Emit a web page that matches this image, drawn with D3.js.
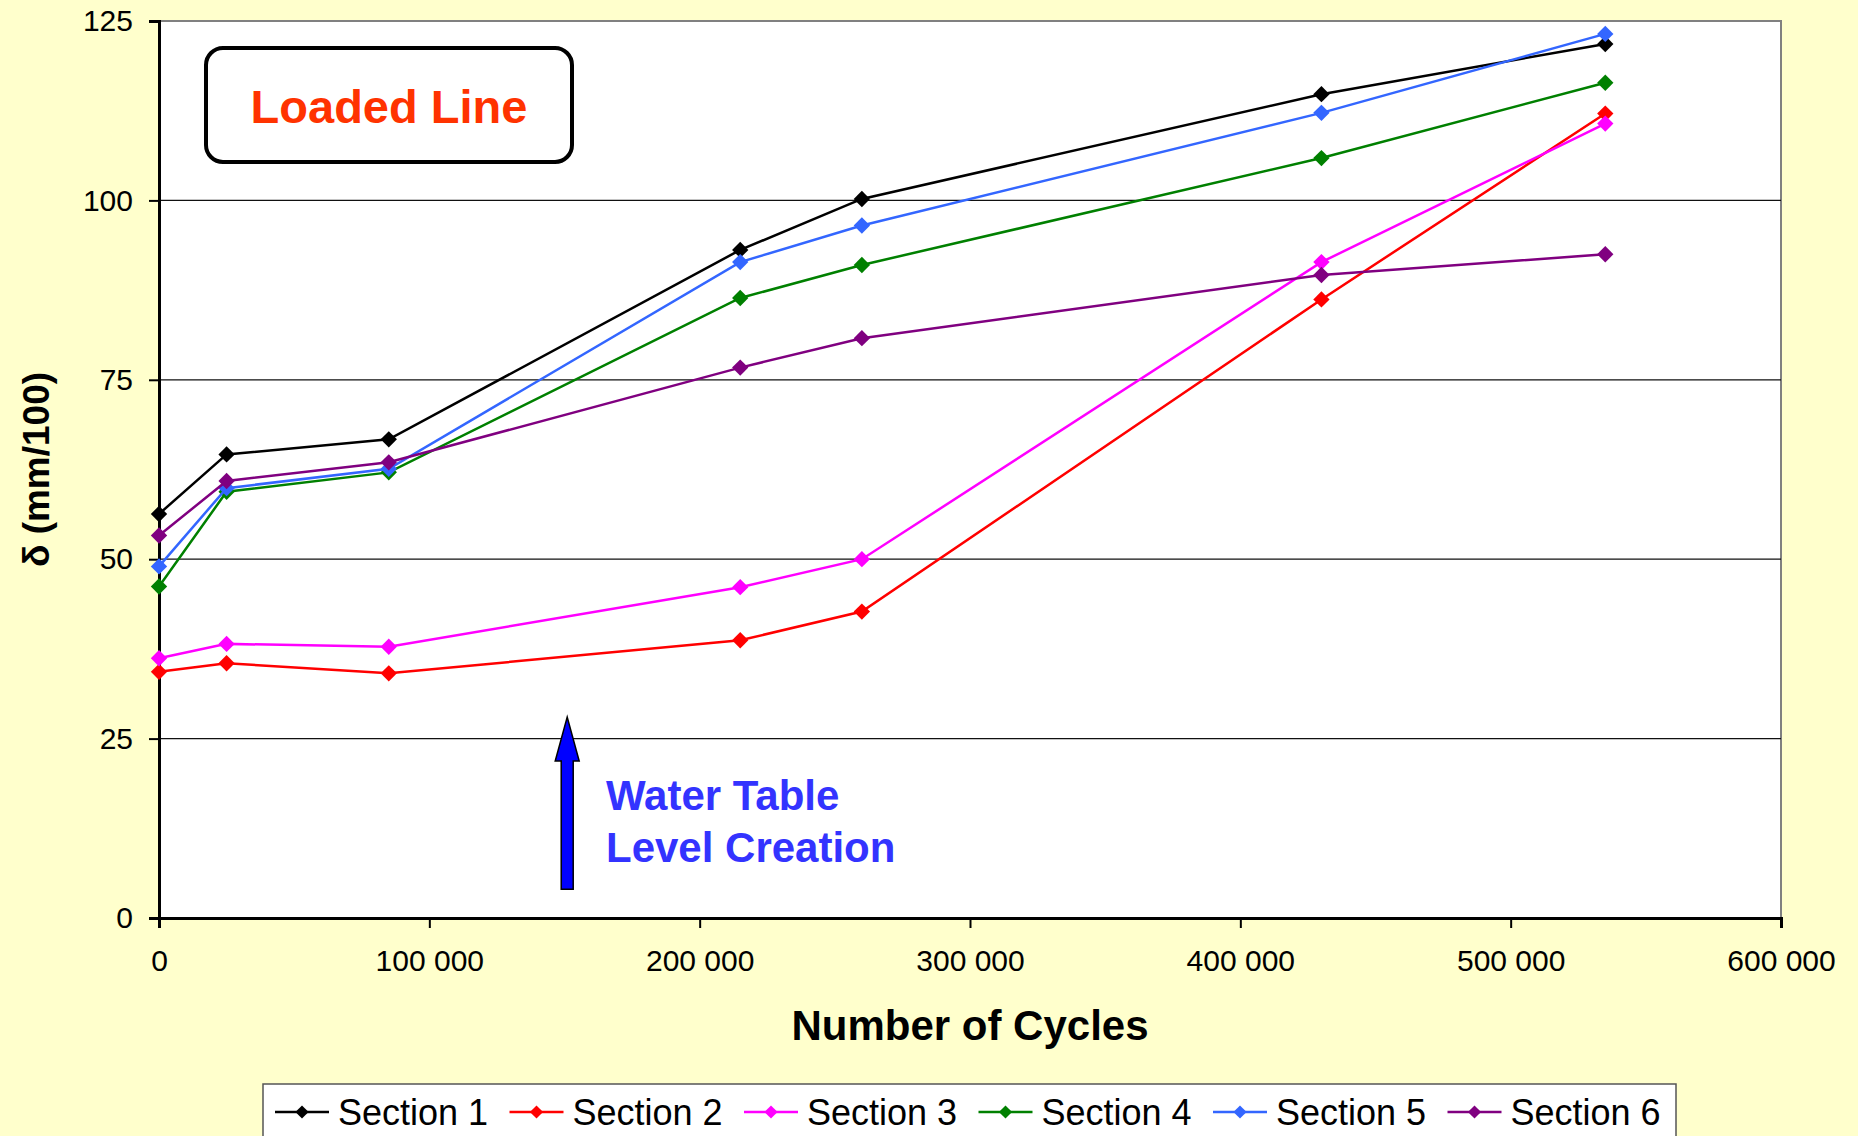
<!DOCTYPE html>
<html>
<head>
<meta charset="utf-8">
<script src="https://cdn.jsdelivr.net/npm/d3@7"></script>
<style>
    html, body { margin: 0; padding: 0; background: #ffffcc; }
    svg { display: block; font-family: "Liberation Sans", Arial, sans-serif; }
</style>
</head>
<body>
<svg width="1858" height="1136"></svg>
<script>

//data
const cycles = [0, 25000, 85000, 215000, 260000, 430000, 535000];
const seriesNames = ["Section 1", "Section 2", "Section 3", "Section 4", "Section 5", "Section 6"];
const seriesColors = ["#000000", "#ff0000", "#ff00ff", "#008000", "#3366ff", "#800080"];
const section1 = [56.3, 64.6, 66.7, 93.1, 100.2, 114.8, 121.8];
const section2 = [34.3, 35.5, 34.1, 38.7, 42.7, 86.2, 112.1];
const section3 = [36.2, 38.2, 37.8, 46.1, 50.0, 91.4, 110.7];
const section4 = [46.2, 59.4, 62.1, 86.4, 91.0, 105.9, 116.4];
const section5 = [49.0, 59.9, 62.6, 91.4, 96.5, 112.2, 123.2];
const section6 = [53.3, 60.9, 63.5, 76.7, 80.8, 89.6, 92.5];
const xTicks = [0, 100000, 200000, 300000, 400000, 500000, 600000];
const yTicks = [0, 25, 50, 75, 100, 125];

//annotation: water table arrow
const arrowCycle = 151000;
const arrowFrom = 4;
const arrowTo = 28;

let allSeries = [section1, section2, section3, section4, section5, section6];

var svg = d3.select("svg");

var margin = { left: 159, right: 77, top: 21, bottom: 218 },
    width = 1858 - margin.left - margin.right,
    height = 1136 - margin.top - margin.bottom;

var x = d3.scaleLinear().domain([0, 600000]).range([margin.left, margin.left + width]);
var y = d3.scaleLinear().domain([0, 125]).range([margin.top + height, margin.top]);

//numbers like "100 000"
var fmt = d3.formatLocale({ decimal: ".", thousands: " ", grouping: [3], currency: ["", ""] }).format(",");

//plot area
svg.append("rect")
    .attr("x", margin.left)
    .attr("y", margin.top)
    .attr("width", width)
    .attr("height", height)
    .attr("fill", "#ffffff")
    .attr("stroke", "#808080")
    .attr("stroke-width", 2);

//grid lines
svg.append("g")
    .selectAll("line")
    .data(yTicks.filter(d => d > 0 && d < 125))
    .enter().append("line")
    .attr("x1", margin.left)
    .attr("x2", margin.left + width)
    .attr("y1", d => y(d))
    .attr("y2", d => y(d))
    .attr("stroke", "#111")
    .attr("stroke-width", 1.2);

//axes
var xAxis = svg.append("g")
    .attr("transform", `translate(0,${margin.top + height})`)
    .call(d3.axisBottom(x).tickValues(xTicks).tickFormat(fmt).tickSizeOuter(0).tickSize(10).tickPadding(22));

var yAxis = svg.append("g")
    .attr("transform", `translate(${margin.left},0)`)
    .call(d3.axisLeft(y).tickValues(yTicks).tickSizeOuter(0).tickSize(10).tickPadding(16));

[xAxis, yAxis].forEach(ax => {
    ax.select(".domain").attr("stroke", "#000").attr("stroke-width", 3);
    ax.selectAll(".tick line").attr("stroke", "#000").attr("stroke-width", 2);
    ax.selectAll(".tick text")
        .attr("font-size", 30)
        .attr("font-family", "'Liberation Sans', Arial, sans-serif")
        .attr("fill", "#000");
});

//axis titles
svg.append("text")
    .attr("x", margin.left + width / 2)
    .attr("y", 1040)
    .attr("text-anchor", "middle")
    .attr("font-size", 42)
    .attr("font-weight", "bold")
    .text("Number of Cycles");

svg.append("text")
    .attr("transform", `translate(36,${margin.top + height / 2}) rotate(-90)`)
    .attr("text-anchor", "middle")
    .attr("dominant-baseline", "central")
    .attr("font-size", 37)
    .attr("font-weight", "bold")
    .text("δ (mm/100)");

//lines and diamond markers
var line = d3.line()
    .x((d, i) => x(cycles[i]))
    .y(d => y(d));

var diamond = d3.symbol().type(d3.symbolDiamond2).size(170);

allSeries.forEach((values, s) => {
    let g = svg.append("g").attr("class", "series");

    g.append("path")
        .datum(values)
        .attr("d", line)
        .attr("fill", "none")
        .attr("stroke", seriesColors[s])
        .attr("stroke-width", 2.5);

    g.selectAll("path.mark")
        .data(values)
        .enter().append("path")
        .attr("class", "mark")
        .attr("d", diamond)
        .attr("transform", (d, i) => `translate(${x(cycles[i])},${y(d)})`)
        .attr("fill", seriesColors[s]);
});

//"Loaded Line" box
svg.append("rect")
    .attr("x", 206)
    .attr("y", 48)
    .attr("width", 366)
    .attr("height", 114)
    .attr("rx", 17)
    .attr("fill", "#fff")
    .attr("stroke", "#000")
    .attr("stroke-width", 4);

svg.append("text")
    .attr("x", 389)
    .attr("y", 123)
    .attr("text-anchor", "middle")
    .attr("font-size", 47)
    .attr("font-weight", "bold")
    .attr("fill", "#ff3300")
    .text("Loaded Line");

//water table arrow
let ax0 = x(arrowCycle),
    yTip = y(arrowTo),
    yBase = y(arrowFrom),
    headLen = 44;

svg.append("path")
    .attr("d", `M${ax0 - 6},${yBase} L${ax0 - 6},${yTip + headLen} L${ax0 - 12},${yTip + headLen}
        L${ax0},${yTip} L${ax0 + 12},${yTip + headLen} L${ax0 + 6},${yTip + headLen} L${ax0 + 6},${yBase} Z`)
    .attr("fill", "#0000ff")
    .attr("stroke", "#000")
    .attr("stroke-width", 1.5)
    .attr("stroke-linejoin", "miter");

let note = svg.append("text")
    .attr("font-size", 42)
    .attr("font-weight", "bold")
    .attr("fill", "#3333ff");

note.append("tspan").attr("x", 606).attr("y", 810).text("Water Table");
note.append("tspan").attr("x", 606).attr("y", 862).text("Level Creation");

//legend
let legend = svg.append("g").attr("class", "legend");

legend.append("rect")
    .attr("x", 263)
    .attr("y", 1084)
    .attr("width", 1413)
    .attr("height", 70)
    .attr("fill", "#fff")
    .attr("stroke", "#555")
    .attr("stroke-width", 1.5);

var legendDiamond = d3.symbol().type(d3.symbolDiamond2).size(110);

seriesNames.forEach((name, i) => {
    let lx = 275 + i * 234.5;
    let item = legend.append("g").attr("transform", `translate(${lx},1112)`);

    item.append("line")
        .attr("x1", 0)
        .attr("x2", 54)
        .attr("stroke", seriesColors[i])
        .attr("stroke-width", 2.5);

    item.append("path")
        .attr("d", legendDiamond)
        .attr("transform", "translate(27,0)")
        .attr("fill", seriesColors[i]);

    item.append("text")
        .attr("x", 63)
        .attr("y", 13)
        .attr("font-size", 36)
        .text(name);
});

</script>
</body>
</html>
